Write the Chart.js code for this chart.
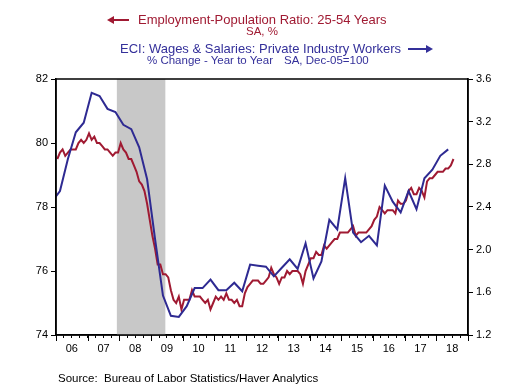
<!DOCTYPE html>
<html>
<head>
<meta charset="utf-8">
<script src="https://cdn.jsdelivr.net/npm/chart.js@4.4.1/dist/chart.umd.min.js"></script>
<style>
  body { margin: 0; background: #fff; }
  #wrap { position: relative; width: 523px; height: 387px; font-family: "Liberation Sans", Arial, sans-serif; }
  #c { position: absolute; left: 0; top: 0; }
  .t { position: absolute; white-space: pre; }
  .red { color: #a01a32; }
  .blue { color: #34309a; }
  .arrow { position: absolute; height: 2px; }
  .arrow::after { content: ''; position: absolute; top: -3px; border-top: 4px solid transparent; border-bottom: 4px solid transparent; }
  .aleft { background: #a01a32; }
  .aleft::after { left: -6px; border-right: 7px solid #a01a32; }
  .aright { background: #34309a; }
  .aright::after { right: -6px; border-left: 7px solid #34309a; }
</style>
</head>
<body>
<div id="wrap">
  <canvas id="c" width="523" height="387"></canvas>
  <div class="arrow aleft" style="left:113px; top:19px; width:16px;"></div>
  <div class="t red" style="left:138px; top:12px; font-size:13px; line-height:15px;">Employment-Population Ratio: 25-54 Years</div>
  <div class="t red" style="left:246px; top:25px; font-size:11.5px; line-height:13px;">SA, %</div>
  <div class="t blue" style="left:120px; top:41px; font-size:13px; line-height:15px;">ECI: Wages &amp; Salaries: Private Industry Workers</div>
  <div class="arrow aright" style="left:408px; top:48px; width:19px;"></div>
  <div class="t blue" style="left:147px; top:54px; font-size:11.5px; line-height:13px;">% Change - Year to Year<span style="margin-left:11px">SA, Dec-05=100</span></div>
  <div class="t" style="left:58px; top:372px; font-size:11.5px; line-height:13px; color:#000;">Source:  Bureau of Labor Statistics/Haver Analytics</div>
</div>
<script>
// Employment-Population Ratio 25-54, monthly, Jan 2006 - Jul 2018 (%)
const eprStart = 2006;
const eprValues = [
  79.5, 79.7, 79.8, 79.6, 79.7, 79.8, 79.8, 79.8, 80.0, 80.1, 80.0, 80.1, // 2006
  80.3, 80.1, 80.2, 80.0, 80.0, 79.9, 79.8, 79.8, 79.7, 79.6, 79.7, 79.7, // 2007
  80.0, 79.8, 79.7, 79.5, 79.5, 79.3, 79.1, 78.8, 78.7, 78.5, 78.1, 77.6, // 2008
  77.1, 76.7, 76.2, 76.2, 75.9, 75.9, 75.8, 75.4, 75.1, 75.0, 75.2, 74.8, // 2009
  75.1, 75.1, 75.1, 75.4, 75.2, 75.2, 75.2, 75.1, 75.0, 75.1, 74.8, 75.0, // 2010
  75.2, 75.1, 75.2, 75.1, 75.3, 75.1, 75.1, 75.0, 75.1, 74.9, 74.9, 75.3, // 2011
  75.5, 75.6, 75.7, 75.7, 75.7, 75.6, 75.6, 75.7, 75.8, 76.1, 75.9, 75.8, // 2012
  75.6, 75.8, 75.8, 76.0, 75.9, 76.0, 76.0, 76.0, 75.9, 75.6, 76.0, 76.2, // 2013
  76.4, 76.4, 76.6, 76.5, 76.5, 76.8, 76.7, 76.8, 76.9, 77.0, 77.0, 77.2, // 2014
  77.2, 77.2, 77.2, 77.3, 77.4, 77.1, 77.2, 77.2, 77.2, 77.2, 77.3, 77.4, // 2015
  77.6, 77.7, 78.0, 77.9, 77.8, 77.9, 77.9, 77.9, 77.8, 78.2, 78.1, 78.1, // 2016
  78.2, 78.5, 78.6, 78.4, 78.4, 78.6, 78.5, 78.3, 78.8, 78.9, 78.9, 79.0, // 2017
  79.1, 79.1, 79.1, 79.2, 79.2, 79.3, 79.5                                // 2018
];

// ECI wages & salaries, private industry, % change yoy, quarterly from 2005 Q4
const eciStart = 2005.75;
const eciValues = [
  2.45,
  2.55, 2.85, 3.10, 3.19, // 2006
  3.47, 3.44, 3.32, 3.29, // 2007
  3.17, 3.13, 2.96, 2.66, // 2008
  2.10, 1.57, 1.38, 1.37, // 2009
  1.47, 1.64, 1.64, 1.72, // 2010
  1.62, 1.62, 1.69, 1.61, // 2011
  1.86, 1.85, 1.84, 1.75, // 2012
  1.83, 1.91, 1.82, 2.06, // 2013
  1.73, 1.89, 2.28, 2.19, // 2014
  2.67, 2.16, 2.07, 2.13, // 2015
  2.04, 2.60, 2.45, 2.35, // 2016
  2.55, 2.38, 2.67, 2.75, // 2017
  2.88, 2.94              // 2018
];

const recession = [2007.92, 2009.45];
const xRange = [2006, 2019];
const leftRange = [74, 82];
const rightRange = [1.2, 3.6];

const redColor = '#a01a32';
const blueColor = '#2e2a92';

const eprData = eprValues.map((v, i) => ({ x: eprStart + (i + 0.5) / 12, y: v }));
const eciData = eciValues.map((v, i) => ({ x: eciStart + (i + 0.5) / 4, y: v }));

const tickFont = { family: '"Liberation Sans", Arial, sans-serif', size: 11 };

// shading, box and year ticks
const framePlugin = {
  id: 'frame',
  beforeDatasetsDraw(chart) {
    const { ctx, chartArea, scales } = chart;
    const x0 = scales.x.getPixelForValue(recession[0]);
    const x1 = scales.x.getPixelForValue(recession[1]);
    ctx.save();
    ctx.fillStyle = '#c8c8c8';
    ctx.fillRect(x0, chartArea.top, x1 - x0, chartArea.bottom - chartArea.top);
    ctx.restore();
  },
  afterDraw(chart) {
    const { ctx, chartArea, scales } = chart;
    ctx.save();
    ctx.strokeStyle = '#000';
    ctx.lineWidth = 1.5;
    ctx.strokeRect(chartArea.left, chartArea.top, chartArea.right - chartArea.left, chartArea.bottom - chartArea.top);
    ctx.lineWidth = 1;
    ctx.beginPath();
    for (let yr = xRange[0]; yr <= xRange[1]; yr++) {
      const px = Math.round(scales.x.getPixelForValue(yr)) + 0.5;
      ctx.moveTo(px, chartArea.bottom);
      ctx.lineTo(px, chartArea.bottom + 6);
    }
    ctx.stroke();
    ctx.restore();
  }
};

const quarterTicks = [];
for (let k = 0; k <= (xRange[1] - xRange[0]) * 4; k++) quarterTicks.push(xRange[0] + k / 4);

new Chart(document.getElementById('c'), {
  type: 'line',
  data: {
    datasets: [
      { label: 'ECI', data: eciData, yAxisID: 'y2', borderColor: blueColor, borderWidth: 2, pointRadius: 0, tension: 0 },
      { label: 'EPR', data: eprData, yAxisID: 'y', borderColor: redColor, borderWidth: 2, pointRadius: 0, tension: 0 }
    ]
  },
  options: {
    responsive: false,
    animation: false,
    layout: { padding: { top: 79, left: 0, right: 0, bottom: 0 } },
    plugins: { legend: { display: false }, tooltip: { enabled: false } },
    scales: {
      x: {
        type: 'linear',
        min: xRange[0],
        max: xRange[1],
        afterBuildTicks: s => { s.ticks = quarterTicks.map(v => ({ value: v })); },
        afterFit: s => { s.height = 52; },
        ticks: {
          autoSkip: false,
          maxRotation: 0,
          padding: 4,
          color: '#000',
          font: tickFont,
          callback: v => (v % 1 === 0.5 ? String(Math.floor(v)).slice(2) : '')
        },
        grid: { drawOnChartArea: false, tickLength: 3, tickColor: '#000' },
        border: { color: '#000', width: 1.5 }
      },
      y: {
        position: 'left',
        min: leftRange[0],
        max: leftRange[1],
        afterFit: s => { s.width = 56; },
        ticks: { stepSize: 2, padding: 3, color: '#000', font: tickFont },
        grid: { drawOnChartArea: false, tickLength: 5, tickColor: '#000' },
        border: { color: '#000', width: 1.5 }
      },
      y2: {
        position: 'right',
        min: rightRange[0],
        max: rightRange[1],
        afterFit: s => { s.width = 55; },
        ticks: { stepSize: 0.4, padding: 3, color: '#000', font: tickFont, callback: v => v.toFixed(1) },
        grid: { drawOnChartArea: false, tickLength: 5, tickColor: '#000' },
        border: { color: '#000', width: 1.5 }
      }
    }
  },
  plugins: [framePlugin]
});
</script>
</body>
</html>
